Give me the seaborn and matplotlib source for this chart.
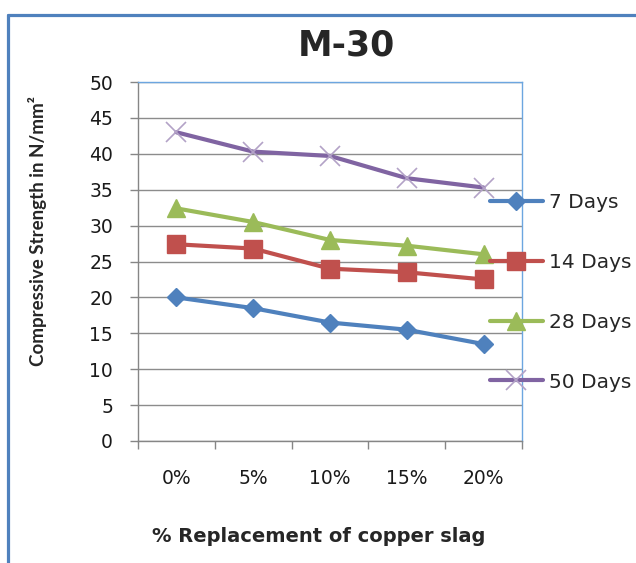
import numpy as np
import matplotlib.pyplot as plt
import seaborn as sns
import pandas as pd
from matplotlib.lines import Line2D

# values
replacement = ['0%', '5%', '10%', '15%', '20%']
days_7 = [20.0, 18.5, 16.5, 15.5, 13.5]
days_14 = [27.4, 26.8, 24.0, 23.5, 22.5]
days_28 = [32.4, 30.5, 28.0, 27.2, 26.0]
days_50 = [43.0, 40.3, 39.7, 36.6, 35.3]
series_names = ['7 Days', '14 Days', '28 Days', '50 Days']

sns.set_style('white')
plt.rcParams['font.family'] = ['DejaVu Sans']

W, H = 636, 563
fig = plt.figure(figsize=(W / 100, H / 100), dpi=100)
ax = fig.add_axes([138 / W, 1 - 441 / H, 384 / W, 359 / H])

df = pd.DataFrame({'pct': replacement, '7 Days': days_7, '14 Days': days_14,
                   '28 Days': days_28, '50 Days': days_50})

styles = {
    '7 Days': dict(color='#4F81BD', marker='D', markersize=9, mec='#4F81BD', mew=1),
    '14 Days': dict(color='#C0504D', marker='s', markersize=13, mec='#C0504D', mew=1),
    '28 Days': dict(color='#9BBB59', marker='^', markersize=13, mec='#9BBB59', mew=1),
    '50 Days': dict(color='#8064A2', marker='x', markersize=14, mec='#B3A2C7', mew=1.2),
}

for name in series_names:
    st = styles[name]
    sns.lineplot(data=df, x='pct', y=name, ax=ax, label=name, linewidth=3,
                 color=st['color'], marker=st['marker'], markersize=st['markersize'],
                 markeredgecolor=st['mec'], markeredgewidth=st['mew'])

# axes limits / ticks like the excel category axis
ax.set_xlim(-0.5, 4.5)
ax.set_ylim(0, 50)
ax.set_yticks(np.arange(0, 51, 5))
ax.set_xticks(range(len(replacement)))
ax.set_xticklabels(replacement)
ax.set_xticks(np.arange(-0.5, 5, 1), minor=True)
ax.tick_params(axis='x', which='major', length=0, pad=20, labelsize=13.5, colors='#1a1a1a')
ax.tick_params(axis='x', which='minor', length=6, width=1, color='#868686', direction='out', bottom=True)
ax.tick_params(axis='y', length=6, width=1, color='#868686', direction='out', left=True,
               pad=12, labelsize=13.5, labelcolor='#1a1a1a')
ax.yaxis.grid(True, color='#8c8c8c', linewidth=1)
ax.set_axisbelow(True)
ax.set_xlabel('')
ax.set_ylabel('')

for side in ['left', 'bottom']:
    ax.spines[side].set_color('#868686')
    ax.spines[side].set_linewidth(1)
for side in ['top', 'right']:
    ax.spines[side].set_color('#6CA6E0')
    ax.spines[side].set_linewidth(1)

# titles as figure text
fig.text(346 / W, 1 - 45 / H, 'M-30', ha='center', va='center', fontsize=25, fontweight='bold')
fig.text(319 / W, 1 - 537 / H, '% Replacement of copper slag', ha='center', va='center',
         fontsize=14, fontweight='bold')
fig.text(38 / W, 1 - 231 / H, 'Compressive Strength in N/mm²', ha='center', va='center',
         rotation=90, fontsize=13.5, fontweight='bold', family=['Lato', 'DejaVu Sans'])

# legend outside to the right, overlapping plot edge
ax.legend(loc='center left', bbox_to_anchor=(490 / W, 1 - 292.5 / H), bbox_transform=fig.transFigure,
          frameon=False, borderpad=0, borderaxespad=0, handlelength=2.63, handletextpad=0.3,
          labelspacing=2.02, fontsize=14.5, numpoints=1)

# blue chart frame (top and left edges visible)
fig.add_artist(Line2D([8 / W, 1], [1 - 15 / H, 1 - 15 / H], color='#4F81BD', linewidth=2.3))
fig.add_artist(Line2D([8 / W, 8 / W], [0, 1 - 15 / H], color='#4F81BD', linewidth=2.3))

fig.savefig('out.png', dpi=100)
